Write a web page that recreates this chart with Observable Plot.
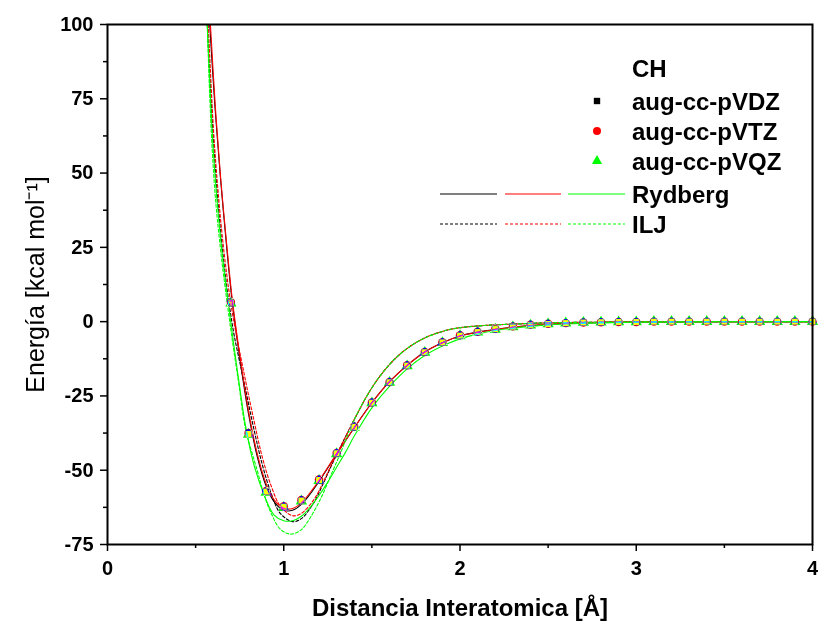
<!DOCTYPE html>
<html>
<head>
<meta charset="utf-8">
<script src="https://cdn.jsdelivr.net/npm/d3@7"></script>
<script src="https://cdn.jsdelivr.net/npm/@observablehq/plot@0.6"></script>
<style>
  html, body { margin: 0; padding: 0; background: #fff; }
  #wrap { position: relative; width: 820px; height: 624px; }
  #wrap svg { display: block; }
  #legend { position: absolute; left: 0; top: 0; pointer-events: none; }
</style>
</head>
<body>
<div id="wrap"></div>
<script>
// ---------- tick values and labels ----------
const xTicks = [0, 1, 2, 3, 4];
const xMinor = [0.5, 1.5, 2.5, 3.5];
const yTicks = [-75, -50, -25, 0, 25, 50, 75, 100];
const yMinor = [-62.5, -37.5, -12.5, 12.5, 37.5, 62.5, 87.5];
const xTitle = "Distancia Interatomica [Å]";
const yTitle = "Energía [kcal mol⁻¹]";
const legendTitle = "CH";
const basisNames = ["aug-cc-pVDZ", "aug-cc-pVTZ", "aug-cc-pVQZ"];
const fitNames = ["Rydberg", "ILJ"];

// ---------- ab initio points ----------
const ptX = [0.7,0.8,0.9,1.0,1.1,1.2,1.3,1.4,1.5,1.6,1.7,1.8,1.9,2.0,2.1,2.2,2.3,2.4,2.5,2.6,2.7,2.8,2.9,3.0,3.1,3.2,3.3,3.4,3.5,3.6,3.7,3.8,3.9,4.0];
const dzY = [6.4,-37.8,-57.2,-62.3,-60.2,-53.3,-44.3,-35.4,-27.3,-20.4,-14.8,-10.3,-7.0,-4.7,-3.5,-2.5,-1.7,-1.1,-0.8,-0.5,-0.3,-0.2,-0.1,-0.1,0,0,0,0,0,0,0,0,0,0];
const tzY = [6.6,-37.5,-57.0,-62.1,-60.0,-53.1,-44.2,-35.3,-27.2,-20.3,-14.7,-10.2,-6.9,-4.6,-3.4,-2.4,-1.6,-1.0,-0.7,-0.5,-0.3,-0.2,-0.1,-0.1,0,0,0,0,0,0,0,0,0,0];
const qzY = [6.2,-38.0,-57.5,-62.6,-60.4,-53.5,-44.5,-35.6,-27.4,-20.5,-14.9,-10.4,-7.1,-4.8,-3.6,-2.6,-1.8,-1.2,-0.8,-0.5,-0.3,-0.2,-0.1,-0.1,0,0,0,0,0,0,0,0,0,0];

// ---------- Rydberg fits (solid) ----------
const rydBlackX = [0.58,0.61,0.64,0.67,0.705,0.75,0.8,0.85,0.9,0.95,1.0,1.05,1.1,1.15,1.2,1.3,1.4,1.5,1.6,1.7,1.8,1.9,2.0,2.2,2.4,2.6,2.8,3.0,3.5,4.0];
const rydBlackY = [100,72,49,29,8,-12,-31,-45.5,-55.3,-61,-63.5,-63.5,-61.5,-58,-53.8,-44.6,-35.7,-27.3,-20.2,-14.7,-10.2,-7.1,-4.8,-2.6,-1.3,-0.6,-0.3,-0.15,-0.03,0];
const rydRedX = [0.584,0.61,0.641,0.67,0.707,0.75,0.8,0.85,0.9,0.95,1.0,1.05,1.1,1.15,1.2,1.3,1.4,1.5,1.6,1.7,1.8,1.9,2.0,2.1,2.2,2.3,2.4,2.5,2.6,2.8,3.0,3.5,4.0];
const rydRedY = [100,74,49,30,8,-11,-30,-44.5,-54.5,-60.3,-62.8,-62.9,-61,-57.5,-53.5,-44.5,-35.7,-27.3,-20.2,-14.7,-10.2,-7.1,-4.8,-3.6,-2.7,-1.9,-1.3,-0.9,-0.6,-0.3,-0.15,-0.03,0];
const rydGreenX = [0.566,0.59,0.613,0.64,0.66,0.688,0.717,0.75,0.783,0.83,0.89,0.944,1.0,1.05,1.1,1.15,1.2,1.25,1.3,1.35,1.4,1.5,1.6,1.7,1.8,1.9,2.0,2.1,2.2,2.3,2.4,2.5,2.6,2.8,3.0,3.5,4.0];
const rydGreenY = [100,68,47,29,18,5,-8,-22,-35,-48,-58.5,-65,-67,-67,-65.5,-62.5,-58.5,-54,-49,-44,-38.5,-29,-21.8,-15.9,-11.4,-8.2,-5.8,-4.2,-3.0,-2.2,-1.6,-1.1,-0.8,-0.4,-0.2,-0.05,0];

// ---------- ILJ fits (dashed) ----------
const iljBlackX = [0.566,0.6,0.63,0.66,0.69,0.72,0.77,0.83,0.88,0.93,0.98,1.05,1.1,1.17,1.22,1.27,1.34,1.417,1.49,1.57,1.66,1.72,1.776,1.83,1.9,1.98,2.135,2.27,2.5,3.0,3.5,4.0];
const iljBlackY = [100,62,38,20,6,-5,-19,-36,-48.5,-58,-64.5,-67.3,-66.3,-61,-55,-48.5,-40,-31,-23.2,-16.5,-10.9,-8.2,-6.2,-4.7,-3.3,-2.2,-1.3,-0.9,-0.4,-0.1,-0.03,0];
const iljRedX = [0.572,0.6,0.63,0.66,0.69,0.72,0.77,0.83,0.88,0.93,0.98,1.05,1.1,1.17,1.22,1.27,1.34,1.417,1.49,1.57,1.66,1.72,1.776,1.83,1.9,1.98,2.135,2.27,2.5,3.0,3.5,4.0];
const iljRedY = [100,66,42,24,10,-1,-16,-33,-46,-55.5,-62,-65.3,-64.5,-60,-54.5,-48.2,-40,-31,-23.2,-16.5,-10.9,-8.2,-6.2,-4.7,-3.3,-2.2,-1.3,-0.9,-0.4,-0.1,-0.03,0];
const iljGreenX = [0.566,0.58,0.594,0.613,0.64,0.66,0.698,0.745,0.783,0.849,0.887,0.925,0.98,1.04,1.1,1.15,1.21,1.265,1.32,1.4,1.49,1.57,1.66,1.776,1.9,1.98,2.135,2.27,2.5,3.0,3.5,4.0];
const iljGreenY = [100,76,58,41,25,15,-2,-21,-36,-50,-58,-64,-69.8,-71.5,-70,-66,-59.5,-52,-44.5,-33,-23.2,-16.5,-10.9,-6.2,-3.3,-2.2,-1.3,-0.9,-0.4,-0.1,-0.03,0];

const black = "#000000", red = "#ff0000", green = "#00ff00";

// ---------- build tables ----------
const pts = (xs, ys) => xs.map((x, i) => ({x, y: ys[i]}));
const curveMark = (xs, ys, color, dashed) =>
  Plot.line(pts(xs, ys), {x: "x", y: "y", stroke: color, strokeWidth: 1.1,
    strokeDasharray: dashed ? "3,2" : null, curve: "catmull-rom", clip: true});

const chart = Plot.plot({
  width: 820,
  height: 624,
  marginLeft: 107,
  marginRight: 8,
  marginTop: 24,
  marginBottom: 80,
  x: {domain: [0, 4]},
  y: {domain: [-75, 100]},
  style: {fontFamily: "'Liberation Sans', Arial, sans-serif", fontSize: "20px", fontWeight: "bold", background: "white", color: "black", overflow: "visible"},
  marks: [
    Plot.frame({fill: "white", stroke: null}),
    Plot.axisY({ticks: yMinor, tickSize: 4, text: null, label: null, strokeWidth: 1.5}),
    Plot.axisY({ticks: yTicks, tickSize: 7, tickPadding: 7, label: null, strokeWidth: 1.5, tickFormat: d => String(d)}),
    Plot.axisX({ticks: xMinor, tickSize: 4, text: null, label: null, strokeWidth: 1.5}),
    Plot.axisX({ticks: xTicks, tickSize: 7, tickPadding: 9, label: null, strokeWidth: 1.5, tickFormat: d => String(d)}),
    curveMark(rydBlackX, rydBlackY, black, false),
    curveMark(iljBlackX, iljBlackY, black, true),
    curveMark(rydRedX, rydRedY, red, false),
    curveMark(iljRedX, iljRedY, red, true),
    curveMark(rydGreenX, rydGreenY, green, false),
    curveMark(iljGreenX, iljGreenY, green, true),
    // markers drawn in "xor" fashion: complement colour + difference blend
    Plot.dot(pts(ptX, dzY), {x: "x", y: "y", symbol: "square", r: 3.4, fill: "#ffffff", stroke: null}),
    Plot.dot(pts(ptX, tzY), {x: "x", y: "y", symbol: "circle", r: 4.2, fill: "#00ffff", stroke: null}),
    Plot.dot(pts(ptX, qzY), {x: "x", y: "y", symbol: "triangle", r: 4.2, fill: "#ff00ff", stroke: null}),
    Plot.frame({stroke: "black", strokeWidth: 2}),
    Plot.text([yTitle], {text: d => d, frameAnchor: "left", textAnchor: "middle", lineAnchor: "middle", dx: -72, rotate: -90, fontSize: 25, fontWeight: "normal"}),
    Plot.text([xTitle], {text: d => d, frameAnchor: "bottom", textAnchor: "middle", lineAnchor: "middle", dy: 64, fontSize: 24, fontWeight: "bold"})
  ]
});

d3.select(chart).selectAll('g[aria-label="dot"]').style("mix-blend-mode", "difference");

const wrap = document.getElementById("wrap");
wrap.appendChild(chart);

// ---------- legend overlay ----------
const lg = d3.select(wrap).append("svg")
  .attr("id", "legend").attr("width", 820).attr("height", 624)
  .style("font-family", "'Liberation Sans', Arial, sans-serif")
  .style("font-weight", "bold").style("font-size", "24px");

const textX = 632, markX = 597;
const rowsY = [68, 101, 131, 161, 194, 224];
const labels = [legendTitle, ...basisNames, ...fitNames];
lg.selectAll("text").data(labels).join("text")
  .attr("x", textX).attr("y", (d, i) => rowsY[i])
  .attr("dy", "0.36em").attr("fill", "black").text(d => d);

const sym = [d3.symbolSquare, d3.symbolCircle, d3.symbolTriangle];
const symCol = [black, red, green];
const symSize = [Math.PI * 3.6 * 3.6, Math.PI * 16, Math.PI * 3.8 * 3.8];
sym.forEach((s, i) => {
  lg.append("path")
    .attr("d", d3.symbol(s, symSize[i])())
    .attr("transform", `translate(${markX},${rowsY[i + 1]})`)
    .attr("fill", symCol[i]);
});

const segs = [[440, 497, black], [505, 561, red], [568, 625, green]];
[false, true].forEach((dashed, k) => {
  segs.forEach(([x1, x2, c]) => {
    lg.append("line")
      .attr("x1", x1).attr("x2", x2)
      .attr("y1", rowsY[4 + k]).attr("y2", rowsY[4 + k])
      .attr("stroke", c).attr("stroke-width", 1.1)
      .attr("stroke-dasharray", dashed ? "3,2" : null);
  });
});
</script>
</body>
</html>
